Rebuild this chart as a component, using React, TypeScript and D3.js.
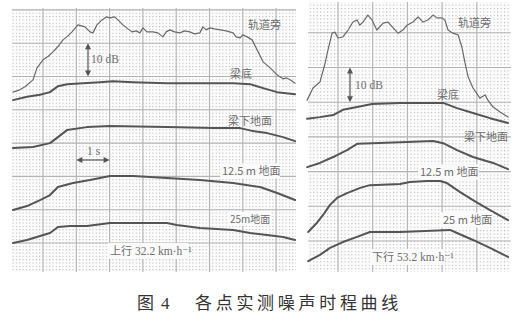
import React from "react";
import * as d3 from "d3";

// ---- Data (t in s, level in dB, relative) ----
type P = [number, number];

const leftTrack: P[] = [[0.10,55.3],[0.30,56.0],[0.46,56.9],[0.70,59.0],[0.82,62.6],[1.00,65.0],[1.15,66.0],[1.30,67.4],[1.45,69.0],[1.60,71.0],[1.75,72.2],[1.87,73.4],[2.05,75.5],[2.26,74.9],[2.41,73.4],[2.50,73.1],[2.62,75.5],[2.77,77.0],[2.90,77.9],[3.01,77.6],[3.15,77.9],[3.25,77.0],[3.40,75.5],[3.55,74.3],[3.67,73.4],[3.80,73.7],[3.91,73.1],[4.00,74.6],[4.12,73.4],[4.30,73.4],[4.45,73.1],[4.60,71.9],[4.70,73.4],[4.81,74.0],[4.95,73.4],[5.11,73.1],[5.25,73.7],[5.41,73.4],[5.55,72.8],[5.71,73.1],[5.80,74.9],[5.90,74.0],[6.01,74.6],[6.15,74.3],[6.32,74.0],[6.50,73.7],[6.71,73.1],[6.80,71.9],[6.92,71.6],[7.00,72.5],[7.13,71.9],[7.28,71.0],[7.43,68.0],[7.61,64.4],[7.82,62.6],[8.03,60.5],[8.10,60.0],[8.21,59.3],[8.30,59.6],[8.42,59.0],[8.57,58.0]];
const leftBeam: P[] = [[0.10,52.9],[0.52,53.9],[0.91,54.5],[1.21,55.3],[1.45,57.1],[1.72,57.7],[2.20,58.0],[2.71,58.3],[3.10,58.6],[3.70,58.3],[4.72,58.0],[5.71,58.0],[6.71,58.0],[7.22,57.7],[7.61,56.5],[8.03,55.3],[8.57,54.7]];
const leftUnder: P[] = [[0.10,38.5],[0.70,38.8],[1.21,40.0],[1.45,41.8],[1.72,43.9],[2.32,44.8],[3.01,45.1],[4.72,44.8],[6.11,44.5],[6.92,44.5],[7.31,43.6],[7.73,43.0],[8.21,41.8],[8.57,40.6]];
const left125: P[] = [[0.10,19.9],[0.52,21.1],[0.91,22.9],[1.21,24.4],[1.45,26.8],[1.90,28.0],[2.41,28.9],[3.01,30.1],[3.70,30.1],[4.72,29.5],[5.71,28.9],[6.71,28.0],[7.52,26.8],[8.03,25.0],[8.57,22.9]];
const left25: P[] = [[0.10,10.0],[0.52,10.9],[0.91,12.1],[1.21,13.0],[1.45,14.8],[1.81,15.1],[2.32,15.1],[3.01,16.0],[4.72,16.0],[5.02,15.4],[5.71,14.5],[6.71,13.9],[7.22,13.0],[7.73,12.4],[8.21,11.8],[8.57,10.9]];

const rightTrack: P[] = [[0.11,50.6],[0.28,54.1],[0.48,55.8],[0.63,61.3],[0.71,65.0],[0.83,69.9],[0.91,70.2],[1.00,68.5],[1.14,68.8],[1.29,70.8],[1.43,73.1],[1.55,73.7],[1.63,72.2],[1.72,73.1],[1.86,75.1],[1.98,73.7],[2.12,70.8],[2.30,72.8],[2.44,73.1],[2.59,71.4],[2.73,69.9],[2.87,70.8],[2.99,72.2],[3.16,73.1],[3.31,74.6],[3.45,73.1],[3.59,73.7],[3.74,75.1],[3.85,74.3],[4.00,74.3],[4.08,73.7],[4.17,70.8],[4.31,69.9],[4.46,69.4],[4.57,65.9],[4.66,61.3],[4.75,57.3],[4.89,54.1],[5.09,51.2],[5.24,52.1],[5.32,50.6],[5.47,48.6],[5.67,47.2],[5.90,45.7]];
const rightBeam: P[] = [[0.11,45.2],[0.48,45.7],[0.86,46.3],[1.14,47.8],[1.55,48.6],[1.98,49.5],[2.79,49.8],[4.03,49.8],[4.43,48.3],[4.89,46.9],[5.38,45.4],[5.90,44.0]];
const rightUnder: P[] = [[0.11,31.3],[0.48,32.5],[0.86,34.2],[1.26,36.2],[1.55,38.0],[1.98,38.2],[2.99,38.5],[3.74,38.8],[4.03,38.2],[4.43,36.2],[4.89,34.2],[5.47,32.5],[5.90,30.7]];
const right125: P[] = [[0.14,12.6],[0.39,15.2],[0.57,17.5],[0.77,20.4],[0.97,22.4],[1.26,23.8],[1.64,25.3],[1.92,26.1],[2.79,26.4],[3.07,27.0],[3.56,27.3],[3.94,27.3],[4.14,26.7],[4.52,24.1],[4.89,21.8],[5.38,18.9],[5.90,16.0]];
const right25: P[] = [[0.14,4.2],[0.48,6.0],[0.77,8.0],[1.14,9.7],[1.55,11.2],[1.92,12.6],[2.79,12.6],[4.23,13.2],[4.43,12.3],[4.89,10.3],[5.38,8.0],[5.90,5.4]];

const leftLabels = ["轨道旁", "梁底", "梁下地面", "12.5 m 地面", "25m地面"];
const rightLabels = ["轨道旁", "梁底", "梁下地面", "12.5 m 地面", "25 m 地面"];
const leftSpeedCn = "上行";
const leftSpeedNum = "32.2 km·h⁻¹";
const rightSpeedCn = "下行";
const rightSpeedNum = "53.2 km·h⁻¹";
const dBLabel = "10 dB";
const secLabel = "1 s";
const captionFig = "图";
const captionNum = "4";
const captionB = "各点实测噪声时程曲线";

const CJK = "'Noto Sans CJK SC', sans-serif";
const SERIF = "'Liberation Serif', 'DejaVu Serif', serif";

interface PanelProps {
  x0: number; x1: number; y0: number; y1: number;
  tMax: number; xScale: d3.ScaleLinear<number, number>; yScale: d3.ScaleLinear<number, number>;
  series: P[][];
  id: string;
}

function Grid({ x0, x1, y0, y1, xScale, yScale, tMax, id }: PanelProps) {
  const majorX: number[] = [];
  for (let i = 0; i <= tMax; i++) {
    const px = xScale(i);
    if (px >= x0 && px <= x1) majorX.push(px);
  }
  const majorY: number[] = [];
  for (let i = -1; i <= 9; i++) {
    const py = yScale(i * 10);
    if (py >= y0 && py <= y1) majorY.push(py);
  }
  const cw = (xScale(1) - xScale(0)) / 10;
  const ch = Math.abs(yScale(1) - yScale(0));
  return (
    <g>
      <defs>
        <pattern id={"dots" + id} patternUnits="userSpaceOnUse" x={xScale(0) - 0.5} y={yScale(0) - 0.5} width={cw} height={ch}>
          <rect x={0} y={0} width={1.1} height={1.1} fill="#b9b9b9" />
        </pattern>
      </defs>
      <rect x={x0} y={y0} width={x1 - x0} height={y1 - y0} fill="#fcfcfc" />
      <rect x={x0} y={y0} width={x1 - x0} height={y1 - y0} fill={`url(#dots${id})`} />
      {majorX.map((px, i) => (
        <line key={"Mx" + i} x1={px} x2={px} y1={y0} y2={y1} stroke="#b4b4b4" strokeWidth={1.1} />
      ))}
      {majorY.map((py, i) => (
        <line key={"My" + i} x1={x0} x2={x1} y1={py} y2={py} stroke="#b4b4b4" strokeWidth={1.1} />
      ))}
    </g>
  );
}

function Curves({ xScale, yScale, series }: PanelProps) {
  const line = d3.line<P>().x(d => xScale(d[0])).y(d => yScale(d[1])).curve(d3.curveLinear);
  return (
    <g fill="none" strokeLinejoin="round" strokeLinecap="round">
      {series.map((s, i) => (
        <path key={i} d={line(s) || ""} stroke={i === 0 ? "#6a6a6a" : "#555"} strokeWidth={i === 0 ? 1.2 : 2} />
      ))}
    </g>
  );
}

function Label({ x, y, text, size = 10.5, font = CJK, bg = true, w }: { x: number; y: number; text: string; size?: number; font?: string; bg?: boolean; w?: number }) {
  return (
    <g>
      {bg && w ? <rect x={x - 2} y={y - size * 0.6 - 1} width={w + 4} height={size * 1.2 + 2} fill="#fafafa" /> : null}
      <text x={x} y={y} dy="0.35em" fontSize={size} fontFamily={font} fill="#6e6e6e">{text}</text>
    </g>
  );
}

function Speed({ x, y, cn, num, w }: { x: number; y: number; cn: string; num: string; w: number }) {
  return (
    <g>
      <rect x={x - 2} y={y - 8} width={w + 4} height={16} fill="#fafafa" />
      <text x={x} y={y} dy="0.35em" fontSize={11} fill="#6e6e6e">
        <tspan fontFamily={CJK}>{cn}</tspan>
        <tspan fontFamily={SERIF} dx={3} fontSize={11.5}>{num}</tspan>
      </text>
    </g>
  );
}

function VArrow({ x, ya, yb }: { x: number; ya: number; yb: number }) {
  return (
    <g stroke="#555" fill="#555">
      <line x1={x} x2={x} y1={ya + 4} y2={yb - 4} strokeWidth={1.2} />
      <path d={`M${x},${ya} l-3,6 l6,0 z`} stroke="none" />
      <path d={`M${x},${yb} l-3,-6 l6,0 z`} stroke="none" />
    </g>
  );
}

function HArrow({ y, xa, xb }: { y: number; xa: number; xb: number }) {
  return (
    <g stroke="#555" fill="#555">
      <line x1={xa + 4} x2={xb - 4} y1={y} y2={y} strokeWidth={1.2} />
      <path d={`M${xa},${y} l6,-3 l0,6 z`} stroke="none" />
      <path d={`M${xb},${y} l-6,-3 l0,6 z`} stroke="none" />
    </g>
  );
}

export default function App() {
  // Left panel: 1 major cell = 1 s horizontally, 10 dB vertically
  const L = { x0: 12, x1: 296, y0: 8, y1: 272 };
  const lx = d3.scaleLinear().domain([0, 1]).range([9.7, 43.0]);
  const ly = d3.scaleLinear().domain([0, 10]).range([276.3, 243.0]);
  const R = { x0: 308, x1: 511, y0: 2, y1: 272 };
  const rx = d3.scaleLinear().domain([0, 1]).range([303.3, 338.0]);
  const ry = d3.scaleLinear().domain([0, 10]).range([275.7, 241.0]);

  const leftSeries = [leftTrack, leftBeam, leftUnder, left125, left25];
  const rightSeries = [rightTrack, rightBeam, rightUnder, right125, right25];

  const lp: PanelProps = { ...L, tMax: 9, xScale: lx, yScale: ly, series: leftSeries, id: "l" };
  const rp: PanelProps = { ...R, tMax: 7, xScale: rx, yScale: ry, series: rightSeries, id: "r" };

  return (
    <svg width={520} height={324} style={{ position: "absolute", left: 0, top: 0, background: "#fff" }}>
      <rect x={0} y={0} width={520} height={324} fill="#fff" />
      <Grid {...lp} />
      <Grid {...rp} />
      <Curves {...lp} />
      <Curves {...rp} />

      {/* left annotations */}
      <Label x={248} y={25} text={leftLabels[0]} size={11} />
      <Label x={230} y={74} text={leftLabels[1]} size={11} />
      <Label x={228} y={121} text={leftLabels[2]} size={11} />
      <Label x={222} y={171} text={leftLabels[3]} size={11} w={56} />
      <Label x={230} y={219} text={leftLabels[4]} size={10} w={40} />
      <Speed x={110} y={251} cn={leftSpeedCn} num={leftSpeedNum} w={76} />
      <VArrow x={88} ya={ly(70)} yb={ly(60)} />
      <Label x={91} y={59} text={dBLabel} size={11.5} font={SERIF} bg={false} />
      <HArrow y={160} xa={lx(2)} xb={lx(3)} />
      <Label x={87} y={151} text={secLabel} size={11.5} font={SERIF} bg={false} />

      {/* right annotations */}
      <Label x={458} y={23} text={rightLabels[0]} size={11} />
      <Label x={437} y={95} text={rightLabels[1]} size={11} />
      <Label x={464} y={137} text={rightLabels[2]} size={11} />
      <Label x={420} y={172} text={rightLabels[3]} size={11} w={57} />
      <Label x={443} y={220} text={rightLabels[4]} size={11} w={48} />
      <Speed x={372} y={257} cn={rightSpeedCn} num={rightSpeedNum} w={70} />
      <VArrow x={350} ya={ry(60)} yb={ry(50)} />
      <Label x={355} y={85} text={dBLabel} size={11.5} font={SERIF} bg={false} />

      {/* caption */}
      <text x={137} y={309} fontSize={17} fontFamily={CJK} fill="#333">{captionFig}</text>
      <text x={161} y={309} fontSize={17} fontFamily={SERIF} fill="#333">{captionNum}</text>
      <text x={195} y={309} fontSize={17} fontFamily={CJK} fill="#333" letterSpacing={3.7}>{captionB}</text>
    </svg>
  );
}
